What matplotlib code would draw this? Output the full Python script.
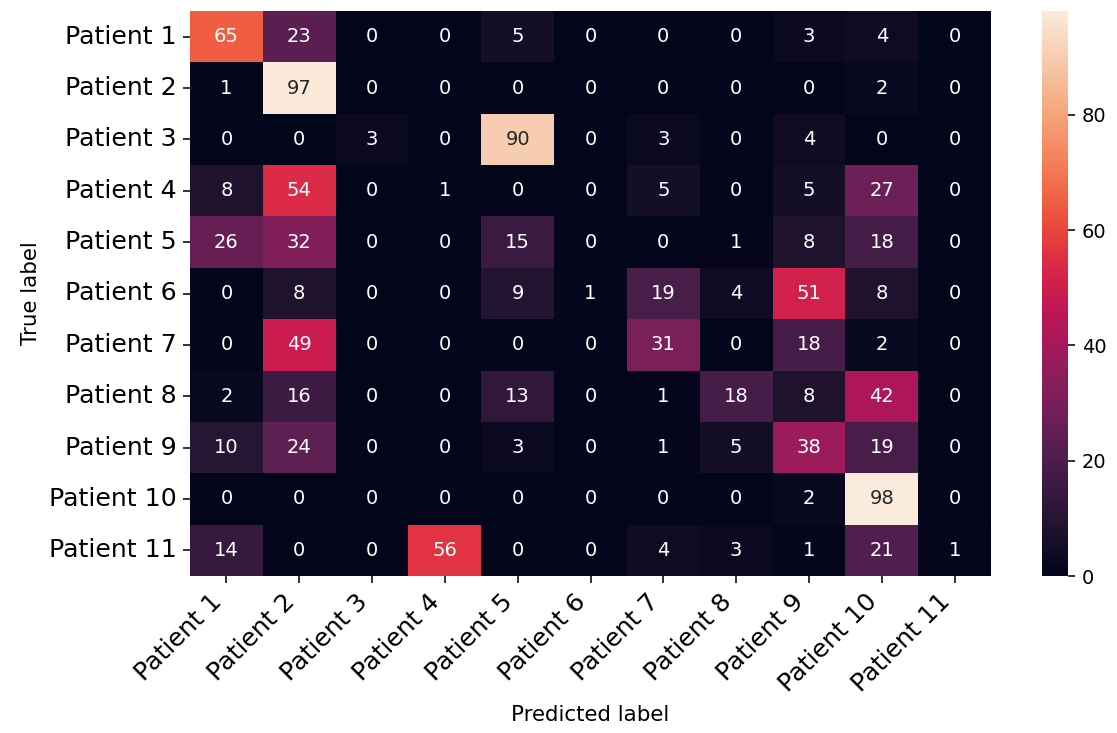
import matplotlib
matplotlib.use("Agg")
import matplotlib.pyplot as plt
import seaborn as sns
import numpy as np

labels = [f"Patient {i}" for i in range(1, 12)]
cm = np.array([
    [65, 23, 0, 0, 5, 0, 0, 0, 3, 4, 0],
    [1, 97, 0, 0, 0, 0, 0, 0, 0, 2, 0],
    [0, 0, 3, 0, 90, 0, 3, 0, 4, 0, 0],
    [8, 54, 0, 1, 0, 0, 5, 0, 5, 27, 0],
    [26, 32, 0, 0, 15, 0, 0, 1, 8, 18, 0],
    [0, 8, 0, 0, 9, 1, 19, 4, 51, 8, 0],
    [0, 49, 0, 0, 0, 0, 31, 0, 18, 2, 0],
    [2, 16, 0, 0, 13, 0, 1, 18, 8, 42, 0],
    [10, 24, 0, 0, 3, 0, 1, 5, 38, 19, 0],
    [0, 0, 0, 0, 0, 0, 0, 0, 2, 98, 0],
    [14, 0, 0, 56, 0, 0, 4, 3, 1, 21, 1],
])

DPI = 140
fig = plt.figure(figsize=(1117/DPI, 733/DPI), dpi=DPI)
ax = fig.add_axes([190/1117, 1-576/733, (991-190)/1117, (576-11)/733])
cax = fig.add_axes([1042/1117, 1-576/733, 26/1117, (576-11)/733])
sns.heatmap(cm, annot=True, fmt="d", cmap="rocket", ax=ax, cbar_ax=cax,
            xticklabels=labels, yticklabels=labels,
            annot_kws={"fontsize": 10})
ax.set_xticklabels(labels, rotation=45, ha="right", fontsize=13)
ax.set_yticklabels(labels, rotation=0, fontsize=13)
ax.set_xlabel("Predicted label", fontsize=11)
ax.set_ylabel("True label", fontsize=11)
cax.tick_params(labelsize=10)
fig.savefig("out.png", dpi=DPI)
